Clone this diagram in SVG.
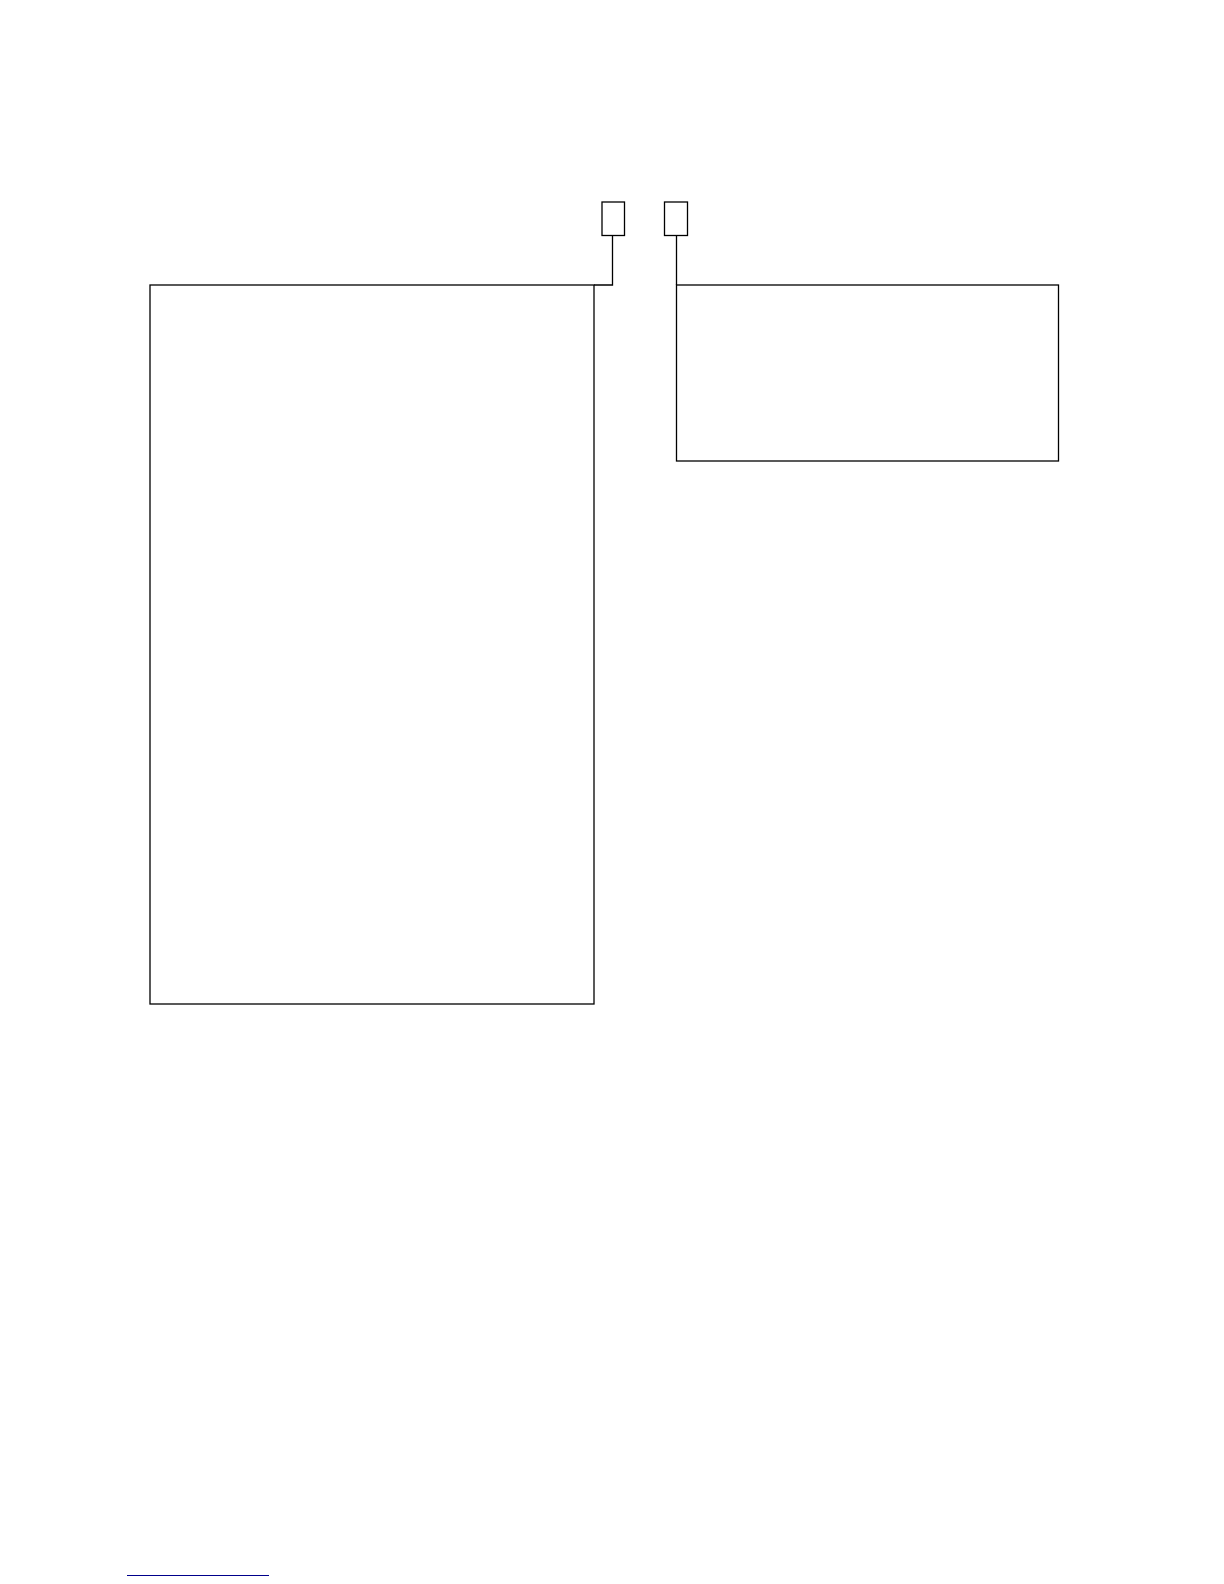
<svg xmlns="http://www.w3.org/2000/svg" width="1224" height="1584" viewBox="0 0 1224 1584">
<style>
.box{fill:none;stroke:#000;stroke-width:1.3}
.conn{fill:none;stroke:#000;stroke-width:1.3}
</style>
<rect width="1224" height="1584" fill="#fff"/>
<g id="node-small-left"><rect class="box" x="602" y="202" width="22.5" height="33.5"/></g>
<g id="node-small-right"><rect class="box" x="664.5" y="202" width="23" height="33.5"/></g>
<g id="node-big-left"><rect class="box" x="150" y="285" width="444" height="719"/></g>
<g id="node-right"><rect class="box" x="676.5" y="285" width="382" height="176"/></g>
<g id="connectors">
<polyline class="conn" points="612.5,235.5 612.5,285 594,285"/>
<polyline class="conn" points="676.5,235.5 676.5,285"/>
</g>
<line x1="127" y1="1575.5" x2="269" y2="1575.5" stroke="#00008b" stroke-width="1.2"/>
</svg>
